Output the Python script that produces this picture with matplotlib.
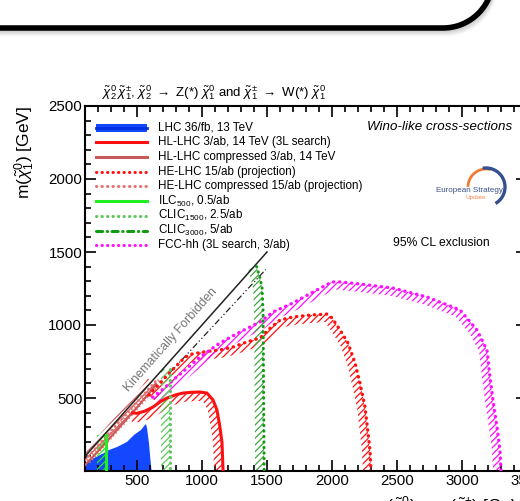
import numpy as np
import matplotlib
matplotlib.use('Agg')
import matplotlib.pyplot as plt
from matplotlib.lines import Line2D
from matplotlib.patches import Rectangle
from matplotlib.ticker import MultipleLocator

plt.rcParams['font.family'] = ['Liberation Sans', 'DejaVu Sans']
plt.rcParams['mathtext.fontset'] = 'custom'
plt.rcParams['mathtext.rm'] = 'Liberation Sans'
plt.rcParams['mathtext.it'] = 'Liberation Sans:italic'
plt.rcParams['mathtext.bf'] = 'Liberation Sans:bold'
plt.rcParams['hatch.linewidth'] = 0.9

# kinematic limit m(chi1) = m(chi2)
diag_x = [100, 1500]
diag_y = [100, 1500]

# LHC 36/fb, 13 TeV (filled)
lhc_x = [100, 100, 160, 246, 285, 346, 423, 477, 531, 554, 569, 577, 592, 603, 612]
lhc_y = [0, 45, 85, 123, 144, 164, 199, 247, 281, 308, 322, 295, 192, 80, 0]

# HL-LHC 3/ab, 3L search
hl_x = [465, 500, 560, 623, 680, 731, 800, 854, 920, 985, 1038, 1085, 1115, 1138, 1154, 1162]
hl_y = [398, 395, 410, 438, 475, 500, 522, 534, 539, 541, 534, 486, 418, 301, 192, 0]

# HL-LHC compressed 3/ab
hlc_x = [100, 200, 300, 400, 500, 600, 645]
hlc_y = [40, 135, 235, 335, 435, 540, 595]

# HE-LHC 15/ab
he_x = [590, 680, 780, 870, 923, 1008, 1138, 1238, 1346, 1446, 1520, 1600, 1700, 1831,
        1962, 2000, 2062, 2123, 2177, 2215, 2254, 2277, 2292, 2300]
he_y = [520, 605, 700, 780, 801, 815, 829, 849, 884, 911, 975, 1034, 1055, 1068,
        1075, 1048, 966, 877, 740, 603, 438, 260, 144, 0]

# HE-LHC compressed 15/ab
hec_x = [100, 300, 500, 665]
hec_y = [75, 275, 475, 635]

# ILC 500
ilc_x = [258, 258]
ilc_y = [245, 0]

# CLIC 1500
clic1_x = [754, 754]
clic1_y = [700, 0]

# CLIC 3000
clic3_x = [1420, 1446, 1462, 1470, 1478]
clic3_y = [1400, 1322, 1253, 1090, 0]
clic3d_x = [760, 1490]
clic3d_y = [680, 1380]

# FCC-hh 3L search
fcc_x = [620, 700, 800, 900, 985, 1138, 1292, 1446, 1546, 1700, 1854, 2000, 2062, 2215,
         2469, 2731, 2985, 3115, 3192, 3215, 3238, 3269, 3292, 3300]
fcc_y = [505, 560, 640, 715, 781, 877, 952, 1021, 1089, 1151, 1226, 1295, 1295, 1281,
         1253, 1192, 1103, 966, 829, 644, 486, 301, 144, 0]

labels = ['LHC 36/fb, 13 TeV',
          'HL-LHC 3/ab, 14 TeV (3L search)',
          'HL-LHC compressed 3/ab, 14 TeV',
          'HE-LHC 15/ab (projection)',
          'HE-LHC compressed 15/ab (projection)',
          r'ILC$_{500}$, 0.5/ab',
          r'CLIC$_{1500}$, 2.5/ab',
          r'CLIC$_{3000}$, 5/ab',
          'FCC-hh (3L search, 3/ab)']

BLUE = '#1448ff'
RED = '#ff1010'
INDIAN = '#c85a5a'
SALMON = '#e87070'
LIME = '#22ee22'
LGREEN = '#5cc85c'
MGREEN = '#3fa83f'
DGREEN = '#139a13'
MAGENTA = '#ff10ff'
DOT = (0, (0.1, 1.7))


def hatch_band(ax, xs, ys, color, width=8, side=-1, hatch='/////', z=2):
    # band of hatching on one side of a contour, offset in display space
    pts = ax.transData.transform(np.column_stack([xs, ys]))
    d = np.gradient(pts, axis=0)
    n = np.column_stack([-d[:, 1], d[:, 0]])
    n /= np.linalg.norm(n, axis=1)[:, None]
    off = pts + side * width * n
    poly = ax.transData.inverted().transform(np.vstack([pts, off[::-1]]))
    ax.fill(poly[:, 0], poly[:, 1], facecolor='none', edgecolor=color,
            hatch=hatch, linewidth=0, zorder=z)


fig = plt.figure(figsize=(5.2, 5.01), dpi=100)
ax = fig.add_axes([85 / 520, 30 / 501, 442 / 520, 365 / 501])
ax.set_xlim(100, 3500)
ax.set_ylim(0, 2500)

ax.fill(lhc_x, lhc_y, color=BLUE, lw=0, zorder=1)

hatch_band(ax, hlc_x, hlc_y, INDIAN, width=10, side=1, hatch='//////')
hatch_band(ax, hec_x, hec_y, SALMON, width=6, side=-1, hatch='\\\\\\\\\\\\')
hatch_band(ax, hl_x, hl_y, RED, width=9)
hatch_band(ax, he_x, he_y, RED, width=8)
hatch_band(ax, fcc_x, fcc_y, MAGENTA, width=8)
hatch_band(ax, ilc_x, ilc_y, LIME, width=9)
hatch_band(ax, clic1_x, clic1_y, LGREEN, width=9)
hatch_band(ax, clic3_x, clic3_y, MGREEN, width=9)

ax.plot(diag_x, diag_y, color='#222222', lw=1.1, zorder=3)
ax.plot(clic3d_x, clic3d_y, color='#222222', lw=0.9, ls=(0, (5, 2, 1, 2, 1, 2)), zorder=3)
ax.plot(hlc_x, hlc_y, color=INDIAN, lw=1.6, zorder=4)
ax.plot(hec_x, hec_y, color=SALMON, lw=2.0, ls=DOT, dash_capstyle='round', zorder=4)
ax.plot(hl_x, hl_y, color=RED, lw=2.2, zorder=4)
ax.plot(he_x, he_y, color=RED, lw=2.4, ls=DOT, dash_capstyle='round', zorder=4)
ax.plot(fcc_x, fcc_y, color=MAGENTA, lw=2.4, ls=DOT, dash_capstyle='round', zorder=4)
ax.plot(ilc_x, ilc_y, color=LIME, lw=2.2, zorder=4)
ax.plot(clic1_x, clic1_y, color=LGREEN, lw=2.2, ls=DOT, dash_capstyle='round', zorder=4)
ax.plot(clic3_x, clic3_y, color=DGREEN, lw=2.2, ls=DOT, dash_capstyle='round', zorder=4)

ax.text(762, 897, 'Kinematically Forbidden', rotation=48.5, color='#777777',
        fontsize=9, ha='center', va='center', rotation_mode='anchor')

# legend, ROOT style
handles = [
    dict(color='#0030e0', lw=2.0, ls='-'),
    dict(color=RED, lw=2.2, ls='-'),
    dict(color=INDIAN, lw=2.2, ls='-'),
    dict(color=RED, lw=2.2, ls=DOT),
    dict(color=SALMON, lw=2.2, ls=DOT),
    dict(color=LIME, lw=2.2, ls='-'),
    dict(color=LGREEN, lw=2.2, ls=DOT),
    dict(color=DGREEN, lw=2.2, ls=(0, (2, 1.5, 0.1, 1.5))),
    dict(color=MAGENTA, lw=2.2, ls=DOT),
]
y0 = (471 - 127.7) / 365
dy = 14.7 / 365
for i, (lab, h) in enumerate(zip(labels, handles)):
    yy = y0 - i * dy
    if i == 0:
        ax.add_patch(Rectangle((0.025, yy - 0.011), 0.115, 0.022, transform=ax.transAxes,
                               color=BLUE, lw=0, zorder=5))
    ax.add_line(Line2D([0.025, 0.140], [yy, yy], transform=ax.transAxes,
                       dash_capstyle='round', zorder=6, **h))
    ax.text(0.165, yy, lab, transform=ax.transAxes, fontsize=8.4, va='center', ha='left')

ax.text(0.966, (471 - 127) / 365, 'Wino-like cross-sections', transform=ax.transAxes,
        fontsize=9.6, style='italic', ha='right', va='center')
ax.text(0.697, (471 - 243) / 365, '95% CL exclusion', transform=ax.transAxes,
        fontsize=8.7, ha='left', va='center')

ax.set_xticks([500, 1000, 1500, 2000, 2500, 3000, 3500])
ax.set_yticks([500, 1000, 1500, 2000, 2500])
ax.xaxis.set_minor_locator(MultipleLocator(100))
ax.yaxis.set_minor_locator(MultipleLocator(100))
ax.tick_params(which='both', direction='in', top=True, right=True, width=1.2)
ax.tick_params(which='major', length=8, labelsize=10.8)
ax.tick_params(which='minor', length=4)
ax.tick_params(axis='y', pad=2)
ax.tick_params(axis='x', pad=2)
for s in ax.spines.values():
    s.set_linewidth(1.5)

fig.text(25 / 520, 1 - 106 / 501, r'm($\tilde{\chi}^{0}_{1}$) [GeV]', rotation=90,
         fontsize=12.5, ha='center', va='top')
fig.text(528 / 520, 1 - 495 / 501, r'm($\tilde{\chi}^{0}_{2}$) = m($\tilde{\chi}^{\pm}_{1}$) [GeV]',
         fontsize=12.5, ha='right', va='top')
fig.text(214 / 520, 1 - 97 / 501,
         r'$\tilde{\chi}^{0}_{2}\,\tilde{\chi}^{\pm}_{1}$, $\tilde{\chi}^{0}_{2}$ $\rightarrow$ Z(*) '
         r'$\tilde{\chi}^{0}_{1}$ and $\tilde{\chi}^{\pm}_{1}$ $\rightarrow$ W(*) $\tilde{\chi}^{0}_{1}$',
         fontsize=9.5, ha='center', va='baseline')

# overlay in pixel coordinates: slide frame and logo
ov = fig.add_axes([0, 0, 1, 1], zorder=5)
ov.set_xlim(0, 520)
ov.set_ylim(501, 0)
ov.axis('off')
ov.patch.set_alpha(0)
t = np.linspace(0, np.pi / 2, 60)
fx = np.concatenate([[-10], 443 + 50 * np.sin(t)])
fy = np.concatenate([[28], -22 + 50 * np.cos(t)])
for k in range(1, 9):
    ov.plot(fx + 0.4 * k, fy + 0.9 * k, color='#808080', lw=2.5, alpha=0.18 * (1 - k / 9),
            solid_capstyle='butt')
ov.plot(fx, fy, color='black', lw=4, solid_capstyle='butt')

a1 = np.linspace(np.radians(175), np.radians(80), 40)
ov.plot(486 + 18 * np.cos(a1), 187 - 18 * np.sin(a1), color='#f07a34', lw=2.0)
a2 = np.linspace(np.radians(95), np.radians(-55), 50)
ov.plot(486 + 19 * np.cos(a2), 187 - 19 * np.sin(a2), color='#34508e', lw=2.4)
ov.text(469.5, 191, 'European Strategy', fontsize=5.8, color='#3b4f8c', ha='center', va='center')
ov.text(476, 197.5, 'Update', fontsize=4.6, color='#f08a50', ha='center', va='center')

fig.savefig('out.png', dpi=100)
